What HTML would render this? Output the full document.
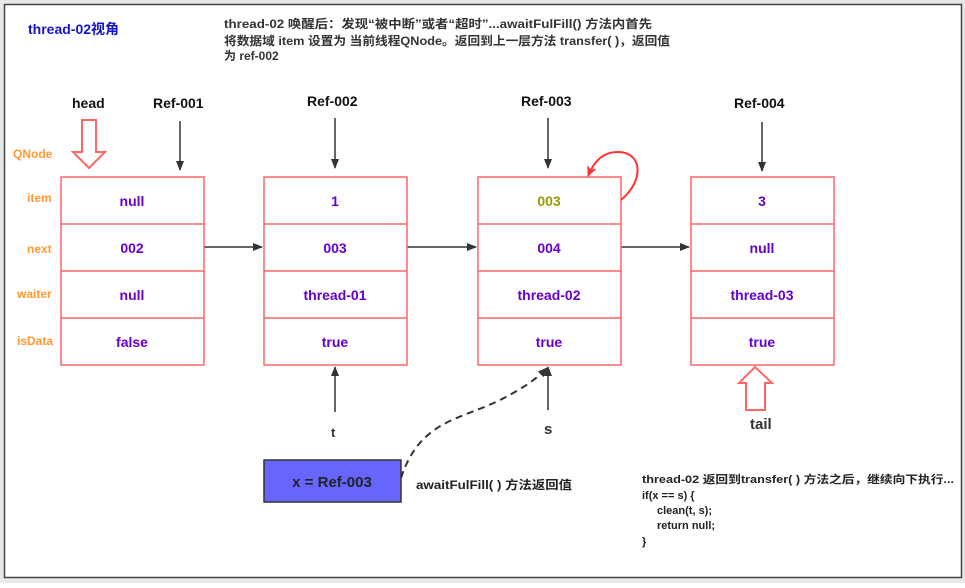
<!DOCTYPE html>
<html><head><meta charset="utf-8"><style>
body{margin:0;background:#fff}
svg text{font-family:"Liberation Sans","Noto Sans CJK SC",sans-serif;font-weight:bold}
</style></head><body>
<svg width="965" height="583" xmlns="http://www.w3.org/2000/svg">
<rect x="0" y="0" width="965" height="583" fill="#e8e8e8"/>
<rect x="4.5" y="4.5" width="957" height="573" fill="#fff" stroke="#444" stroke-width="1.5"/>
<defs>
<marker id="a" markerWidth="10" markerHeight="10" refX="9" refY="5" orient="auto" markerUnits="userSpaceOnUse"><path d="M0,1 L10,5 L0,9 Z" fill="#333"/></marker>
<marker id="r" markerWidth="12" markerHeight="12" refX="10" refY="6" orient="auto" markerUnits="userSpaceOnUse"><path d="M0,1 L11,6 L0,11 L3,6 Z" fill="#f33"/></marker>
</defs>
<text x="28" y="34" font-size="14" fill="#1515c8">thread-02视角</text>
<g font-size="12" fill="#333" font-weight="bold">
<text x="224" y="28" textLength="428" lengthAdjust="spacingAndGlyphs">thread-02 唤醒后：发现“被中断”或者“超时”...awaitFulFill() 方法内首先</text>
<text x="224" y="45" textLength="446" lengthAdjust="spacingAndGlyphs">将数据域 item  设置为 当前线程QNode。返回到上一层方法 transfer( )，返回值</text>
<text x="224" y="60">为    ref-002</text>
</g>
<g font-size="14" fill="#111">
<text x="72" y="108">head</text>
<text x="153" y="108">Ref-001</text>
<text x="307" y="106">Ref-002</text>
<text x="521" y="106">Ref-003</text>
<text x="734" y="108">Ref-004</text>
</g>
<g font-size="12" fill="#ff9933">
<text x="13" y="158">QNode</text>
<text x="27" y="202">item</text>
<text x="27" y="253">next</text>
<text x="17" y="298">waiter</text>
<text x="17" y="345">isData</text>
</g>
<path d="M82,120 H96 V152 H105 L89,168 L73,152 H82 Z" fill="#fff" stroke="#f66" stroke-width="2"/>
<g stroke="#333" stroke-width="1.5">
<line x1="180" y1="121" x2="180" y2="170" marker-end="url(#a)"/>
<line x1="335" y1="118" x2="335" y2="168" marker-end="url(#a)"/>
<line x1="548" y1="118" x2="548" y2="168" marker-end="url(#a)"/>
<line x1="762" y1="122" x2="762" y2="171" marker-end="url(#a)"/>
<line x1="204" y1="247" x2="262" y2="247" marker-end="url(#a)"/>
<line x1="407" y1="247" x2="476" y2="247" marker-end="url(#a)"/>
<line x1="621" y1="247" x2="689" y2="247" marker-end="url(#a)"/>
<line x1="335" y1="412" x2="335" y2="367" marker-end="url(#a)"/>
<line x1="548" y1="410" x2="548" y2="367" marker-end="url(#a)"/>
</g>
<g fill="#fff" stroke="#f66" stroke-width="1.5">
<rect x="61" y="177" width="143" height="188"/>
<rect x="264" y="177" width="143" height="188"/>
<rect x="478" y="177" width="143" height="188"/>
<rect x="691" y="177" width="143" height="188"/>
</g>
<g stroke="#f66" stroke-width="1.5">
<line x1="61" y1="224" x2="834" y2="224" stroke-dasharray="143 60 143 71 143 70 143"/>
<line x1="61" y1="271" x2="834" y2="271" stroke-dasharray="143 60 143 71 143 70 143"/>
<line x1="61" y1="318" x2="834" y2="318" stroke-dasharray="143 60 143 71 143 70 143"/>
</g>
<g font-size="14" fill="#6600cc" text-anchor="middle">
<text x="132" y="206">null</text><text x="132" y="253">002</text><text x="132" y="300">null</text><text x="132" y="347">false</text>
<text x="335" y="206">1</text><text x="335" y="253">003</text><text x="335" y="300">thread-01</text><text x="335" y="347">true</text>
<text x="549" y="206" fill="#999900">003</text><text x="549" y="253">004</text><text x="549" y="300">thread-02</text><text x="549" y="347">true</text>
<text x="762" y="206">3</text><text x="762" y="253">null</text><text x="762" y="300">thread-03</text><text x="762" y="347">true</text>
</g>
<path d="M621,200 C645,180 642,152 618,152 C602,152 594,162 588,176" fill="none" stroke="#f33" stroke-width="2" marker-end="url(#r)"/>
<path d="M755,367 L772,383 H765 V410 H746 V383 H739 Z" fill="#fff" stroke="#f66" stroke-width="2"/>
<text x="750" y="429" font-size="15" fill="#333">tail</text>
<text x="331" y="437" font-size="13" fill="#333">t</text>
<text x="544" y="434" font-size="15" fill="#333">s</text>
<path d="M401,478 C420,420 460,420 500,400 C530,385 540,375 547,368" fill="none" stroke="#333" stroke-width="2" stroke-dasharray="7 5" marker-end="url(#a)"/>
<rect x="264" y="460" width="137" height="42" fill="#6666ff" stroke="#333" stroke-width="1.5"/>
<text x="332" y="487" font-size="15" fill="#222" text-anchor="middle">x = Ref-003</text>
<text x="416" y="489" font-size="12" fill="#222" textLength="156" lengthAdjust="spacingAndGlyphs">awaitFulFill( ) 方法返回值</text>
<g font-size="11" fill="#222">
<text x="642" y="483" textLength="312" lengthAdjust="spacingAndGlyphs">thread-02 返回到transfer( ) 方法之后，继续向下执行...</text>
<text x="642" y="499">if(x == s) {</text>
<text x="657" y="514">clean(t, s);</text>
<text x="657" y="529">return null;</text>
<text x="642" y="545">}</text>
</g>
</svg>
</body></html>
